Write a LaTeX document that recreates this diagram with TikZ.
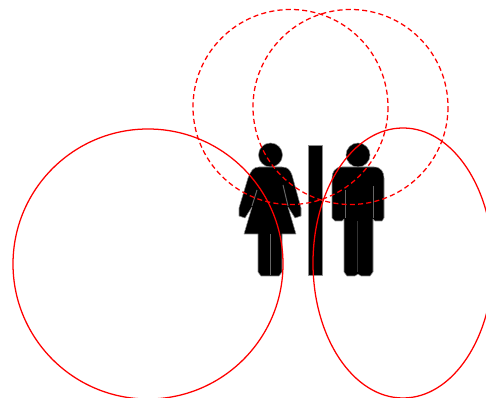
\documentclass[tikz,border=0pt]{standalone}
\usetikzlibrary{math}
\tikzset{
  solidring/.style={color=red, line width=0.95pt},
  dashring/.style={color=red, line width=0.95pt, dash pattern=on 3.8pt off 2.4pt},
  figure/.style={fill=black, draw=black!45, line width=0.4pt, line join=round},
  seam/.style={color=black!60, line width=0.75pt}
}
\begin{document}
\begin{tikzpicture}[x=0.75pt,y=-0.75pt]
\tikzmath{
\Rs=135;
\Rd=97.5;
}
\useasboundingbox (0,0) rectangle (486,398);
\clip (0,0) rectangle (486,398);

% woman
\fill[figure] (270.5,155) circle(12);
\fill[figure] (259,167) -- (282,167) .. controls (288,167) and (290,170) .. (292,175)
  -- (301,208) -- (301,216) -- (295,218) -- (288,207) -- (296,234) -- (282,234) -- (282,272)
  -- (279,276) -- (261,276) -- (258,272) -- (258,234) -- (244,234) -- (252,207) -- (245,218)
  -- (239,216) -- (239,208) -- (248,178) .. controls (251,171) and (253,167) .. (259,167) --cycle;
\draw[seam] (270,234) -- (270,275);
\draw[seam] (257,190) -- (252,206);
\draw[seam] (283,185) -- (288,206);

% bar
\fill[figure] (308,145) rectangle (322,275);

% man
\fill[figure] (358,155) circle(12);
\fill[figure] (342,167) -- (374,167) .. controls (381,167) and (384,172) .. (384,178)
  -- (384,218) -- (382,221) -- (375,221) -- (373,219) -- (373,272) -- (370,276) -- (361,276)
  -- (358,274) -- (355,276) -- (347,276) -- (344,272) -- (344,219) -- (342,221) -- (335,221)
  -- (332,218) -- (332,178) .. controls (332,172) and (335,167) .. (342,167) --cycle;
\draw[seam] (345,190) -- (345,218);
\draw[seam] (373,186) -- (373,218);
\draw[color=black!80, line width=1pt] (357.5,221) -- (357.5,272);

% rings
\draw[solidring] (148,264) circle(\Rs);
\draw[solidring] (403,263) ellipse (90 and \Rs);
\draw[dashring] (290.5,107) circle(\Rd);
\draw[dashring] (350.5,107) circle(\Rd);
\end{tikzpicture}
\end{document}
